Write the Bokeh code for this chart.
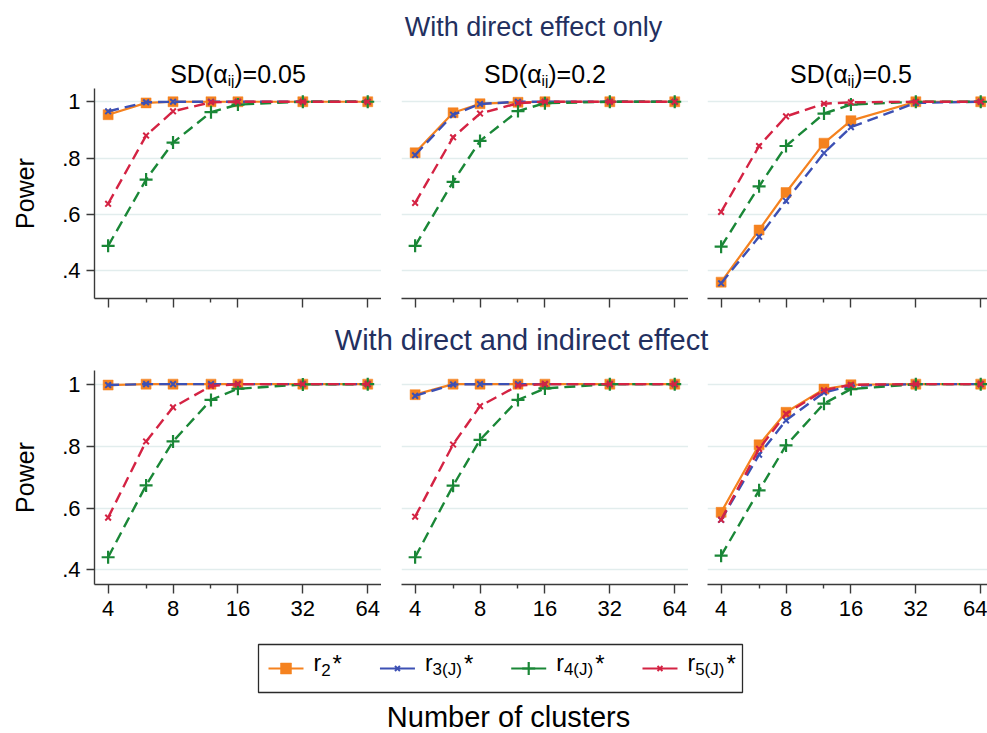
from bokeh.plotting import figure
from bokeh.layouts import column, row
from bokeh.models import FixedTicker, CustomJSTickFormatter, Range1d
from bokeh.core.properties import value
from bokeh.embed import file_html
from bokeh.resources import INLINE

FONT = "Liberation Sans"

# ---------------- data ----------------
clusters = [4, 6, 8, 12, 16, 32, 64]
tick_clusters = [4, 8, 16, 32, 64]
tick_cluster_labels = ["4", "8", "16", "32", "64"]
minor_clusters = [6, 12]
power_ticks = [0.4, 0.6, 0.8, 1.0]
power_tick_labels = [".4", ".6", ".8", "1"]

sd_labels = ["0.05", "0.2", "0.5"]
row_titles = ["With direct effect only", "With direct and indirect effect"]
series_names = ["r2", "r3", "r4", "r5"]
series_subs = ["2", "3(J)", "4(J)", "5(J)"]
x_title = "Number of clusters"
y_title = "Power"

# With direct effect only
d005_r2 = [0.954, 0.996, 1.0, 1.0, 1.0, 1.0, 1.0]
d005_r3 = [0.966, 0.998, 1.0, 1.0, 1.0, 1.0, 1.0]
d005_r4 = [0.489, 0.724, 0.855, 0.963, 0.990, 1.0, 1.0]
d005_r5 = [0.638, 0.880, 0.966, 0.998, 1.0, 1.0, 1.0]

d02_r2 = [0.819, 0.961, 0.993, 0.998, 1.0, 1.0, 1.0]
d02_r3 = [0.811, 0.954, 0.992, 1.0, 1.0, 1.0, 1.0]
d02_r4 = [0.489, 0.716, 0.861, 0.967, 0.995, 1.0, 1.0]
d02_r5 = [0.641, 0.874, 0.958, 0.995, 1.0, 1.0, 1.0]

d05_r2 = [0.360, 0.545, 0.678, 0.853, 0.933, 1.0, 1.0]
d05_r3 = [0.356, 0.521, 0.648, 0.818, 0.910, 0.996, 1.0]
d05_r4 = [0.486, 0.700, 0.843, 0.958, 0.990, 1.0, 1.0]
d05_r5 = [0.609, 0.843, 0.948, 0.993, 0.998, 1.0, 1.0]

# With direct and indirect effect
i005_r2 = [0.997, 1.0, 1.0, 1.0, 1.0, 1.0, 1.0]
i005_r3 = [0.997, 1.0, 1.0, 1.0, 1.0, 1.0, 1.0]
i005_r4 = [0.441, 0.673, 0.815, 0.949, 0.985, 0.999, 1.0]
i005_r5 = [0.569, 0.815, 0.925, 0.994, 1.0, 1.0, 1.0]

i02_r2 = [0.966, 1.0, 1.0, 1.0, 1.0, 1.0, 1.0]
i02_r3 = [0.962, 0.999, 1.0, 1.0, 1.0, 1.0, 1.0]
i02_r4 = [0.441, 0.672, 0.820, 0.949, 0.986, 1.0, 1.0]
i02_r5 = [0.572, 0.805, 0.929, 0.995, 1.0, 1.0, 1.0]

i05_r2 = [0.586, 0.804, 0.909, 0.984, 0.998, 1.0, 1.0]
i05_r3 = [0.562, 0.772, 0.883, 0.973, 0.995, 1.0, 1.0]
i05_r4 = [0.446, 0.657, 0.802, 0.937, 0.984, 1.0, 1.0]
i05_r5 = [0.562, 0.791, 0.904, 0.980, 0.998, 1.0, 1.0]

panel_data = [
    [dict(r2=d005_r2, r3=d005_r3, r4=d005_r4, r5=d005_r5),
     dict(r2=d02_r2, r3=d02_r3, r4=d02_r4, r5=d02_r5),
     dict(r2=d05_r2, r3=d05_r3, r4=d05_r4, r5=d05_r5)],
    [dict(r2=i005_r2, r3=i005_r3, r4=i005_r4, r5=i005_r5),
     dict(r2=i02_r2, r3=i02_r3, r4=i02_r4, r5=i02_r5),
     dict(r2=i05_r2, r3=i05_r3, r4=i05_r4, r5=i05_r5)],
]

# ---------------- styles ----------------
ORANGE = "#F5821F"
BLUE = "#3C50B4"
GREEN = "#1A8737"
RED = "#D42343"
NAVY = "#23305F"
GRID = "#E2EDED"
AXIS = "#3A3A3A"
DASH = "11 6"

styles = {
    "r2": dict(color=ORANGE, dash="solid", marker="square", size=10, mlw=0, lw=2.2, lsize=11),
    "r3": dict(color=BLUE, dash=DASH, marker="x", size=8, mlw=2, lw=2.4, lsize=7),
    "r4": dict(color=GREEN, dash=DASH, marker="cross", size=13, mlw=2.2, lw=2.4, lsize=13),
    "r5": dict(color=RED, dash=DASH, marker="x", size=8, mlw=2, lw=2.4, lsize=7),
}

TOTAL_W = 987
LEFT_BORDERS = [94, 20, 19]
FRAME_WS = [287, 287, 280]
FULL_FRAME_W = 287
PX_PER_DOUBLING = 64.9
LOG2_START = 1.79
MID = 0.3465  # em-box middle above the baseline

ARIAL = {'S': 0.667, 'D': 0.722, '(': 0.333, ')': 0.333, '=': 0.584, '0': 0.556,
         '.': 0.278, '2': 0.556, '3': 0.556, '4': 0.556, '5': 0.556, 'i': 0.222,
         'j': 0.222, 'α': 0.578, 'r': 0.333, 'J': 0.5, '*': 0.389}


def tw(s, size):
    return sum(ARIAL.get(c, 0.556) for c in s) * size


def tick_formatter(tick_values, tick_texts):
    return CustomJSTickFormatter(
        args=dict(tv=tick_values, tt=tick_texts),
        code="const i = tv.findIndex(t => Math.abs(t - tick) < 1e-6); return i >= 0 ? tt[i] : '';")


def blank(width, height):
    p = figure(width=width, height=height, x_range=Range1d(0, width), y_range=Range1d(height, 0),
               output_backend="svg", toolbar_location=None, min_border=0,
               x_axis_location=None, y_axis_location=None, title=None)
    p.grid.visible = False
    p.outline_line_color = None
    return p


def put_text(p, x, baseline, s, size, color="black", align="left"):
    p.text(x=[x], y=[baseline - MID * size], text=[s], text_font=value(FONT),
           text_font_size=f"{size}px", text_color=color, text_align=align,
           text_baseline="middle")


def make_panel(col, bottom, data):
    left = LEFT_BORDERS[col]
    fw = FRAME_WS[col]
    fh = 214 if bottom else 210
    bb = 50 if bottom else 22
    x0 = 2 ** LOG2_START
    x1 = 2 ** (LOG2_START + fw / PX_PER_DOUBLING)
    yr = (0.353, 1.044) if bottom else (0.302, 1.047)
    p = figure(width=left + fw, height=fh + bb, x_axis_type="log",
               x_range=Range1d(x0, x1), y_range=Range1d(*yr),
               output_backend="svg", toolbar_location=None, title=None,
               min_border_left=left, min_border_right=0, min_border_top=0, min_border_bottom=bb)
    p.outline_line_color = None
    p.xgrid.visible = False
    p.ygrid.ticker = FixedTicker(ticks=power_ticks)
    p.ygrid.grid_line_color = GRID
    p.ygrid.grid_line_width = 1.6

    xa = p.xaxis[0]
    xa.ticker = FixedTicker(ticks=tick_clusters, minor_ticks=minor_clusters)
    xa.formatter = tick_formatter(tick_clusters, tick_cluster_labels)
    xa.axis_line_color = AXIS
    xa.axis_line_width = 1.4
    xa.major_tick_line_color = AXIS
    xa.major_tick_line_width = 1.4
    xa.minor_tick_line_color = AXIS
    xa.minor_tick_line_width = 1.4
    xa.major_tick_in = 0
    xa.major_tick_out = 9
    xa.minor_tick_in = 0
    xa.minor_tick_out = 4
    xa.major_label_text_font = FONT
    if bottom:
        xa.major_label_text_color = "black"
        xa.major_label_text_font_size = "22px"
        xa.major_label_standoff = 7
    else:
        xa.major_label_text_color = None
        xa.major_label_text_font_size = "1px"
        xa.major_label_standoff = 0

    ya = p.yaxis[0]
    if col == 0:
        ya.ticker = FixedTicker(ticks=power_ticks)
        ya.formatter = tick_formatter(power_ticks, power_tick_labels)
        ya.axis_line_color = AXIS
        ya.axis_line_width = 1.4
        ya.major_tick_line_color = AXIS
        ya.major_tick_line_width = 1.4
        ya.major_tick_in = 0
        ya.major_tick_out = 8
        ya.minor_tick_line_color = None
        ya.major_label_text_font = FONT
        ya.major_label_text_font_size = "22px"
        ya.major_label_text_color = "black"
        ya.major_label_standoff = 6
        ya.axis_label = y_title
        ya.axis_label_text_font = FONT
        ya.axis_label_text_font_size = "25px"
        ya.axis_label_text_font_style = "normal"
        ya.axis_label_text_color = "black"
        ya.axis_label_standoff = 20
    else:
        ya.visible = False

    for name in series_names:
        st = styles[name]
        p.line(clusters, data[name], line_color=st["color"], line_width=st["lw"],
               line_dash=st["dash"])
        if st["marker"] == "square":
            p.scatter(clusters, data[name], marker="square", size=st["size"],
                      fill_color=st["color"], line_color=st["color"], line_width=0.5)
        else:
            p.scatter(clusters, data[name], marker=st["marker"], size=st["size"],
                      line_color=st["color"], line_width=st["mlw"])
    return p


# panel centres (for subtitles)
centers = []
off = 0
for c in range(3):
    centers.append(off + LEFT_BORDERS[c] + FULL_FRAME_W / 2)
    off += LEFT_BORDERS[c] + FRAME_WS[c]

# ---------------- header 1 ----------------
h1 = blank(TOTAL_W, 88)
put_text(h1, 533, 36, row_titles[0], 27, color=NAVY, align="center")
for c, sd in enumerate(sd_labels):
    pieces = [("SD(α", 25, 0), ("ij", 15, 3), (")=" + sd, 25, 0)]
    total = sum(tw(s, sz) for s, sz, _ in pieces)
    x = centers[c] - total / 2
    for s, sz, dy in pieces:
        put_text(h1, x, 82 + dy, s, sz)
        x += tw(s, sz)

# ---------------- header 2 ----------------
h2 = blank(TOTAL_W, 50)
put_text(h2, 521, 30, row_titles[1], 29, color=NAVY, align="center")

top_row = row(*[make_panel(c, False, panel_data[0][c]) for c in range(3)])
bottom_row = row(*[make_panel(c, True, panel_data[1][c]) for c in range(3)])

# ---------------- footer: legend + x title ----------------
ft = blank(TOTAL_W, 99)
ft.quad(left=[258], right=[742], top=[10], bottom=[58], fill_color=None,
        line_color="#2A2A2A", line_width=1.3)
ly = 34
x = 268
for name, sub in zip(series_names, series_subs):
    st = styles[name]
    ft.segment(x0=[x], y0=[ly], x1=[x + 35], y1=[ly], line_color=st["color"], line_width=2.2)
    if st["marker"] == "square":
        ft.scatter([x + 17.5], [ly], marker="square", size=st["lsize"], fill_color=st["color"],
                   line_color=st["color"], line_width=0.5)
    else:
        ft.scatter([x + 17.5], [ly], marker=st["marker"], size=st["lsize"],
                   line_color=st["color"], line_width=st["mlw"])
    tx = x + 45
    put_text(ft, tx, 36, "r", 23)
    sx = tx + tw("r", 23)
    put_text(ft, sx, 41, sub, 17)
    stx = sx + tw(sub, 17) + 2
    put_text(ft, stx, 37, "*", 24)
    x = stx + tw("*", 24) + 38

put_text(ft, 508, 93, x_title, 29, align="center")

layout = column(h1, top_row, h2, bottom_row, ft)

with open("out.html", "w") as f:
    f.write(file_html(layout, INLINE))
